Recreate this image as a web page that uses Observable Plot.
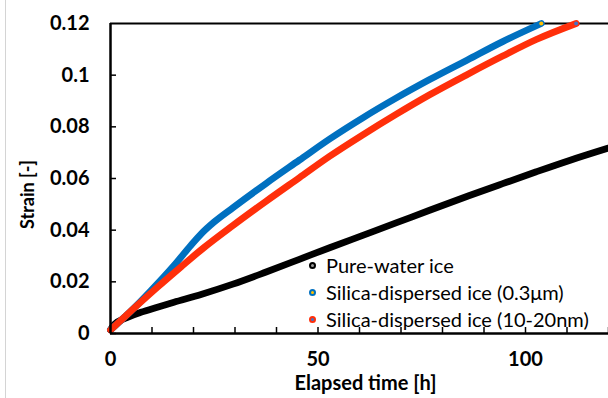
<!DOCTYPE html>
<html><head><meta charset="utf-8">
<script src="https://cdn.jsdelivr.net/npm/d3@7"></script>
<script src="https://cdn.jsdelivr.net/npm/@observablehq/plot@0.6"></script>
<style>
body{margin:0;background:#fff;}
#wrap{position:relative;width:608px;height:398px;overflow:hidden;font-family:Lato,"Open Sans",sans-serif;}
#edge{position:absolute;left:5px;top:0;width:1px;height:398px;background:#d4d4d4;}
#legend{position:absolute;left:309px;top:252px;font-size:20px;line-height:27px;color:#000;}
.item{display:flex;align-items:center;white-space:nowrap;}
.sw{width:3px;height:3px;border-radius:50%;border:2px solid;margin-right:10px;}
</style></head><body><div id="wrap"><div id="edge"></div><div id="plot"></div><div id="legend"></div></div>
<script>
// ---- data ----
const seriesNames = ["Pure-water ice", "Silica-dispersed ice (0.3\u03bcm)", "Silica-dispersed ice (10-20nm)"];

const pureTime   = [0, 0.9, 3.3, 7.3, 11.3, 15.3, 22, 29.5, 37.5, 45.5, 52.8, 60.8, 68.8, 76.9, 86.5, 94.5, 102.6, 110.6, 120];
const pureStrain = [0.0014, 0.0035, 0.0057, 0.0082, 0.0102, 0.0121, 0.0152, 0.0191, 0.0238, 0.0287, 0.0332, 0.038, 0.0428, 0.0477, 0.0534, 0.058, 0.0626, 0.067, 0.0718];

const silica03Time   = [0, 5, 9.7, 15.3, 19.4, 21.8, 25, 29.5, 37.5, 45.5, 52.8, 60.8, 68.8, 76.9, 86, 94.5, 103.8];
const silica03Strain = [0.0014, 0.0088, 0.0165, 0.0263, 0.0342, 0.0385, 0.0432, 0.0487, 0.0581, 0.0671, 0.0753, 0.0835, 0.0911, 0.0983, 0.1059, 0.113, 0.12];

const silicaNmTime   = [0, 5, 11.3, 17, 22.4, 29.5, 37.5, 45.5, 52.8, 60.8, 68.8, 76.9, 86, 94.5, 102.6, 112.2];
const silicaNmStrain = [0.0014, 0.0088, 0.0179, 0.0258, 0.0331, 0.0418, 0.0512, 0.0603, 0.0686, 0.0769, 0.0848, 0.0924, 0.1003, 0.1074, 0.1138, 0.12];

const xMinorTicks = [0, 10, 20, 30, 40, 50, 60, 70, 80, 90, 100, 110, 120];
const xLabelTicks = [0, 50, 100];
const yTicks = [0, 0.02, 0.04, 0.06, 0.08, 0.1, 0.12];

const colors = ["#000000", "#0070C0", "#FF2F0A"];
const markerFill = ["#9a9a9a", "#FFC000", "#4472C4"];

// ---- build tables ----
const toRows = (t, s, name) => t.map((x, i) => ({time: x, strain: s[i], series: name}));
const pure = toRows(pureTime, pureStrain, seriesNames[0]);
const s03 = toRows(silica03Time, silica03Strain, seriesNames[1]);
const sNm = toRows(silicaNmTime, silicaNmStrain, seriesNames[2]);
const ends = [s03[s03.length - 1], sNm[sNm.length - 1]];

const lineOpts = {x: "time", y: "strain", strokeWidth: 6.8, curve: "monotone-x", strokeLinecap: "round", strokeLinejoin: "round"};

const chart = Plot.plot({
  width: 608, height: 398,
  marginLeft: 110, marginRight: 0, marginTop: 23, marginBottom: 65,
  style: {fontFamily: "Lato, 'Open Sans', sans-serif", fontSize: "20px", fontWeight: "bold", color: "#000", background: "transparent", overflow: "visible"},
  x: {domain: [0, 120], axis: null},
  y: {domain: [0, 0.12], axis: null},
  marks: [
    Plot.ruleY([yTicks[yTicks.length - 1]], {stroke: "#000", strokeWidth: 2}),
    Plot.axisX({ticks: xMinorTicks, tickSize: 6, dy: -6, tickFormat: () => "", label: null, strokeWidth: 1.5}),
    Plot.axisY({ticks: yTicks.slice(0, -1), tickSize: 6, dx: 6, tickFormat: () => "", label: null, strokeWidth: 1.5}),
    Plot.text(xLabelTicks, {x: d => d, frameAnchor: "bottom", dy: 26, lineAnchor: "middle", text: d => String(d), fontSize: 20, fontWeight: "bold"}),
    Plot.text(yTicks, {y: d => d, frameAnchor: "left", dx: -21, textAnchor: "end", text: d => String(d), fontSize: 20, fontWeight: "bold"}),
    Plot.line(pure, {...lineOpts, stroke: colors[0]}),
    Plot.line(s03, {...lineOpts, stroke: colors[1]}),
    Plot.line(sNm, {...lineOpts, stroke: colors[2]}),
    Plot.dot(ends, {x: "time", y: "strain", r: 2, fill: (d) => markerFill[seriesNames.indexOf(d.series)], stroke: "none"}),
    Plot.ruleY([0], {stroke: "#000", strokeWidth: 2.5}),
    Plot.ruleX([0], {stroke: "#000", strokeWidth: 2.5}),
    Plot.text(["Strain [-]"], {frameAnchor: "left", dx: -82, dy: 16, rotate: -90, textAnchor: "middle", fontSize: 18, fontWeight: "bold", text: d => d}),
    Plot.text(["Elapsed time [h]"], {frameAnchor: "bottom", dx: 6, dy: 56.5, textAnchor: "middle", fontSize: 20, fontWeight: "bold", text: d => d})
  ]
});
document.getElementById("plot").appendChild(chart);

// ---- legend ----
const legend = document.getElementById("legend");
seriesNames.forEach((name, i) => {
  const item = document.createElement("div");
  item.className = "item";
  const sw = document.createElement("span");
  sw.className = "sw";
  sw.style.borderColor = colors[i];
  sw.style.background = markerFill[i];
  item.appendChild(sw);
  const t = document.createElement("span");
  t.textContent = name;
  item.appendChild(t);
  legend.appendChild(item);
});
</script></body></html>
